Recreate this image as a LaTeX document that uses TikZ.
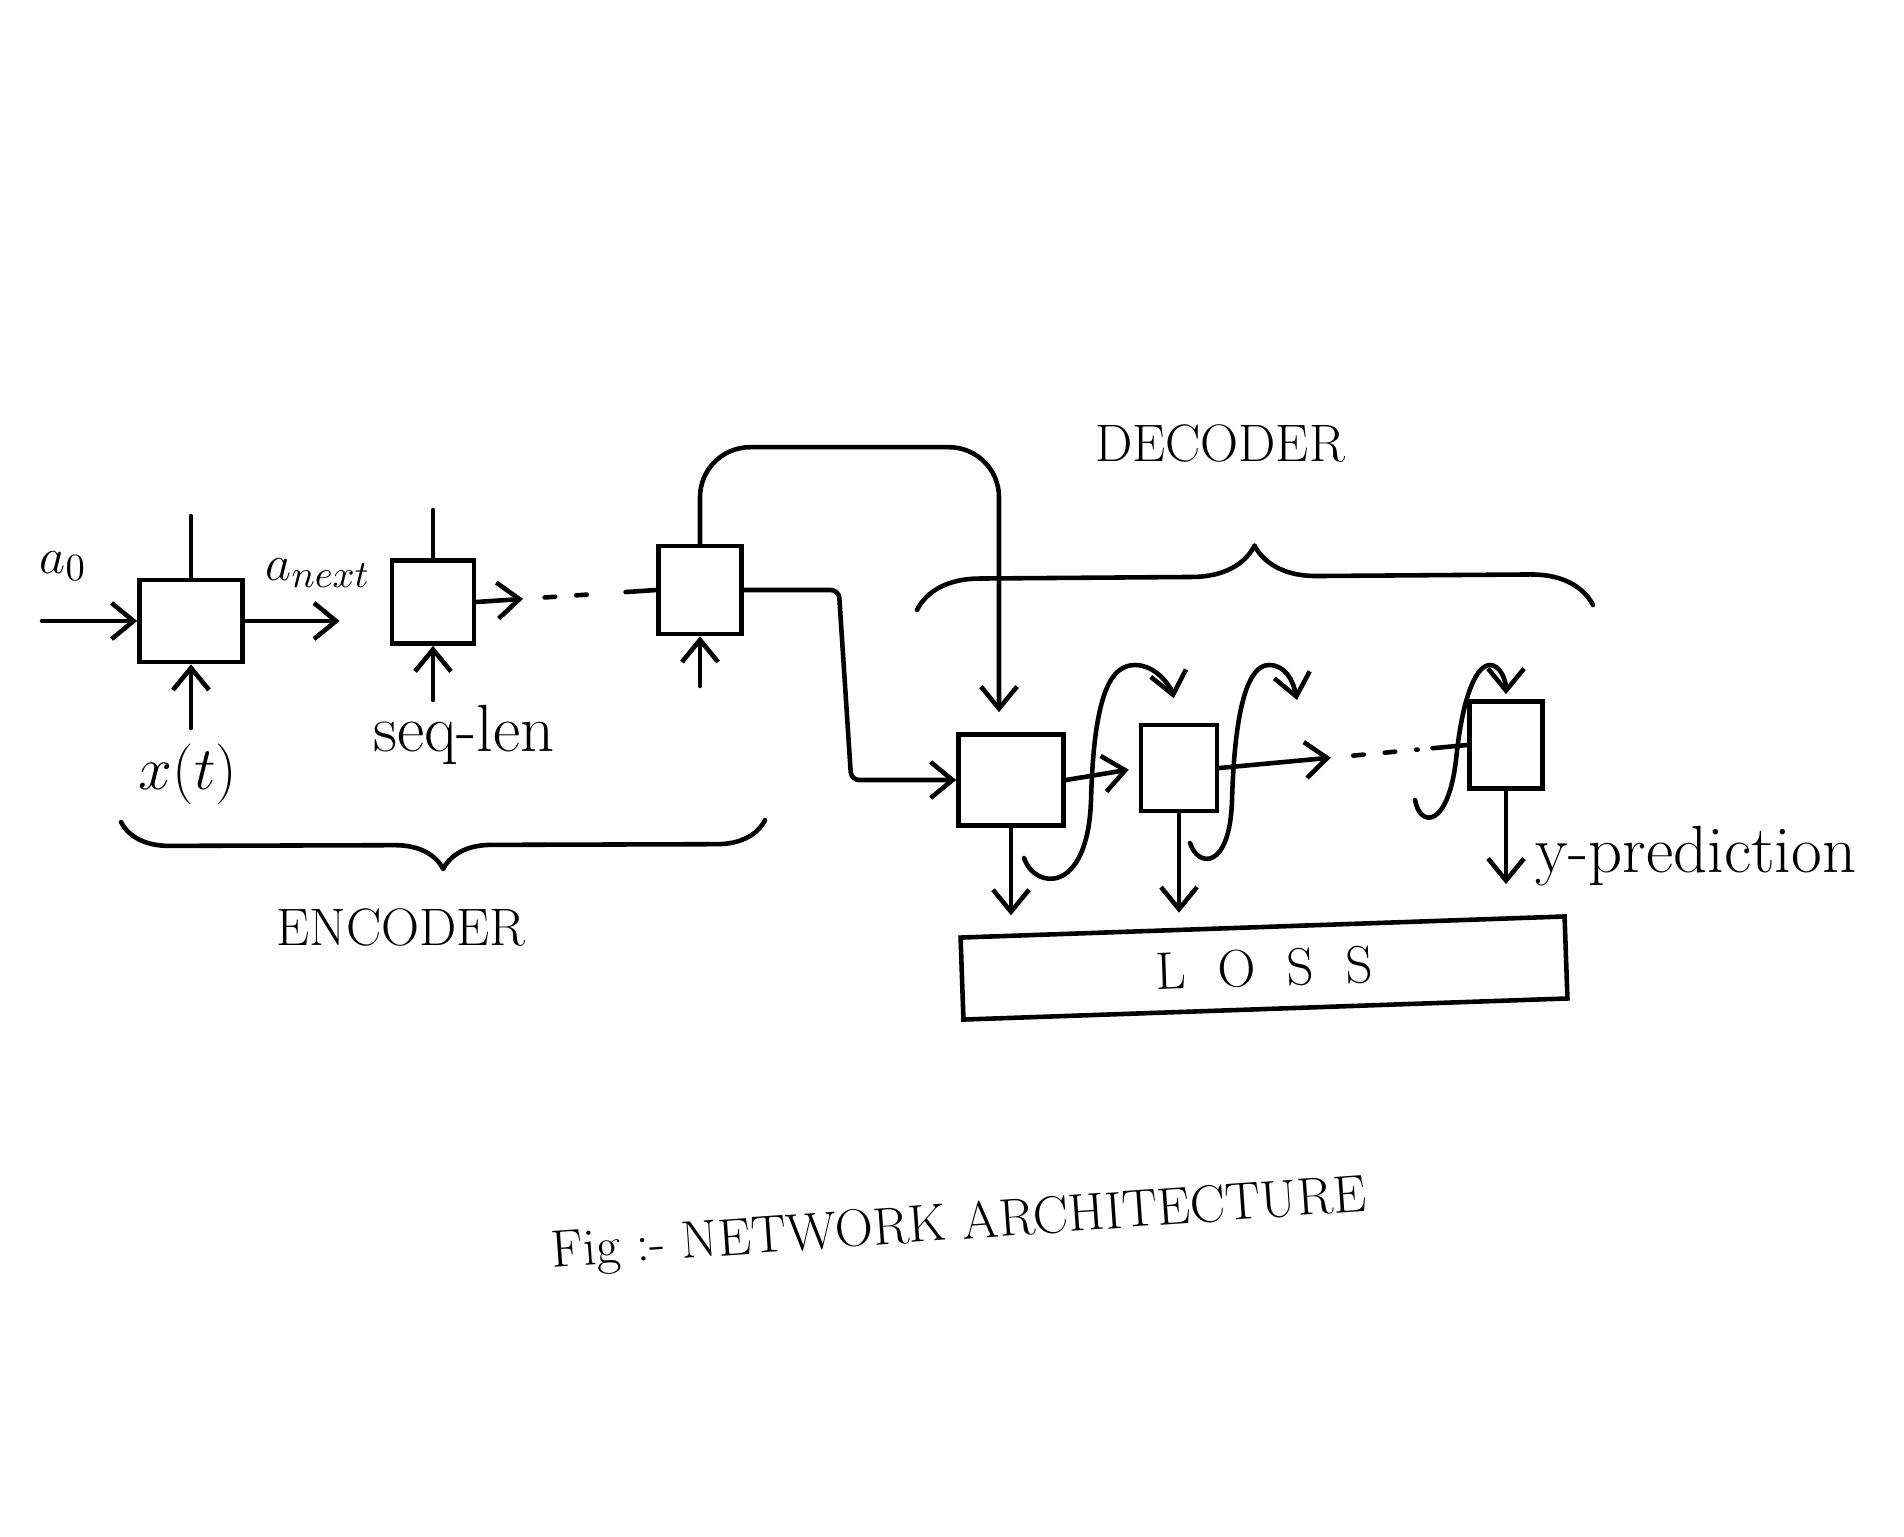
\documentclass[tikz,border=0pt]{standalone}
\usepackage{tikz}
\usetikzlibrary{positioning,calc,arrows.meta,decorations.pathreplacing}

\begin{document}
\begin{tikzpicture}[x=0.01cm,y=-0.01cm,
  cell/.style={draw=black,line width=1.3pt,inner sep=0pt,
               minimum width=0.8cm,minimum height=0.85cm},
  wire/.style={line width=1.3pt,line cap=round,line join=round},
  arr/.style={wire,-{Straight Barb[length=2.2mm,width=3.6mm]}},
  lbl/.style={font=\fontsize{15}{18}\selectfont},
  note/.style={font=\fontsize{19}{22}\selectfont},
  bigtext/.style={font=\fontsize{15}{18}\selectfont},
  brc/.style={wire,decorate,decoration={brace,amplitude=#1}}]
  \useasboundingbox (0,0) rectangle (1904,1536);

  % encoder cells
  \node[cell,minimum width=1.03cm,minimum height=0.82cm] (e1) at (191,621) {};
  \node[cell,minimum width=0.82cm,minimum height=0.83cm] (e2) at (433,602) {};
  \node[cell,minimum width=0.83cm,minimum height=0.88cm] (e3) at (700,590) {};
  % decoder cells
  \node[cell,minimum width=1.05cm,minimum height=0.91cm] (d1) at (1011,780) {};
  \node[cell,minimum width=0.76cm,minimum height=0.86cm] (d2) at (1179,768) {};
  \node[cell,minimum width=0.73cm,minimum height=0.87cm] (d3) at (1506,745) {};
  \node[cell,rotate=2,minimum width=6.04cm,minimum height=0.82cm,bigtext] (loss) at (1264,968)
       {L\hspace{0.6em}O\hspace{0.6em}S\hspace{0.6em}S};

  % labels
  \node[lbl] (a0)     at (63,566)   {$a_0$};
  \node[lbl] (anext)  at (318,573)  {$a_{next}$};
  \node[lbl,font=\fontsize{17}{20}\selectfont] (xt) at (188,774) {$x(t)$};
  \node[note] (seqlen) at (464,735)  {seq-len};
  \node[note] (ypred)  at (1696,856) {y-prediction};
  \node[bigtext] (enc) at (401,927)  {ENCODER};
  \node[bigtext] (dec) at (1220,443) {DECODER};
  \node[bigtext,rotate=4] (fig) at (959,1226) {Fig :- NETWORK ARCHITECTURE};

  % free ends
  \coordinate (a0in)  at (42,621);
  \coordinate (e1top) at (191,516);
  \coordinate (e2top) at (433,510);
  \coordinate (xin)   at (191,728);
  \coordinate (seqin) at (433,700);
  \coordinate (e3in)  at (700,686);
  \coordinate (l1)    at (1024,858);
  \coordinate (l2)    at (1190,843);
  \coordinate (l2end) at (1297,700);
  \coordinate (l3)    at (1415,800);

  % encoder
  \draw[arr] (a0in) -- (e1.west);
  \draw[wire] (e1.north) -- (e1top);
  \draw[arr] (xin) -- (e1.south);
  \draw[arr,shorten >=0.5cm] (e1.east) -- (e1.east -| e2.west);
  \draw[wire] (e2.north) -- (e2top);
  \draw[arr] (seqin) -- (e2.south);
  \draw[arr] (e2.east) -- ($(e2.east)!0.26!(e3.west)$);
  \draw[wire,dash pattern=on 3pt off 6pt] ($(e2.east)!0.38!(e3.west)$) -- ($(e2.east)!0.72!(e3.west)$);
  \draw[wire] ($(e2.east)!0.83!(e3.west)$) -- (e3.west);
  \draw[arr] (e3in) -- (e3.south);

  % encoder to decoder
  \draw[arr,rounded corners=0.5cm,shorten >=0.2cm] (e3.north) |- ($(d1.north)+(-12,-285)$) -- ($(d1.north)+(-12,0)$);
  \draw[arr,rounded corners=0.08cm] (e3.east) -- ($(e3.east)+(95,0)$) -- ($(d1.west)+(-105,0)$) -- (d1.west);

  % decoder chain
  \draw[arr,shorten >=0.1cm] (d1.east) -- (d2.west);
  \draw[arr] (d2.east) -- ($(d2.east)!0.45!(d3.west)$);
  \draw[wire,dash pattern=on 3pt off 6pt] ($(d2.east)!0.54!(d3.west)$) -- ($(d2.east)!0.8!(d3.west)$);
  \draw[wire] ($(d2.east)!0.86!(d3.west)$) -- (d3.west);

  % carried state
  \draw[arr,shorten >=0.25cm] (l1) .. controls (1035,890) and (1088,895) .. (1091,800)
     .. controls (1094,690) and (1112,665) .. (1135,665)
     .. controls (1158,665) and (1172,690) .. (d2.north);
  \draw[arr] (l2) .. controls (1198,868) and (1230,870) .. (1232,800)
     .. controls (1235,700) and (1250,665) .. (1269,665)
     .. controls (1285,665) and (1293,680) .. (l2end);
  \draw[arr,shorten >=0.05cm] (l3) .. controls (1420,828) and (1448,828) .. (1456,760)
     .. controls (1463,690) and (1478,665) .. (1490,665)
     .. controls (1500,665) and (1506,680) .. (d3.north);

  % outputs to loss
  \draw[arr,shorten >=0.2cm] (d1.south) -- (d1.south |- loss.north west);
  \draw[arr,shorten >=0.12cm] (d2.south) -- (d2.south |- loss.north);
  \draw[arr,shorten >=0.3cm] (d3.south) -- (d3.south |- loss.north east);

  % braces
  \draw[brc=0.48cm] (765,820) -- (121,822);
  \draw[brc=0.62cm] (917,610) -- (1593,605);
\end{tikzpicture}
\end{document}
